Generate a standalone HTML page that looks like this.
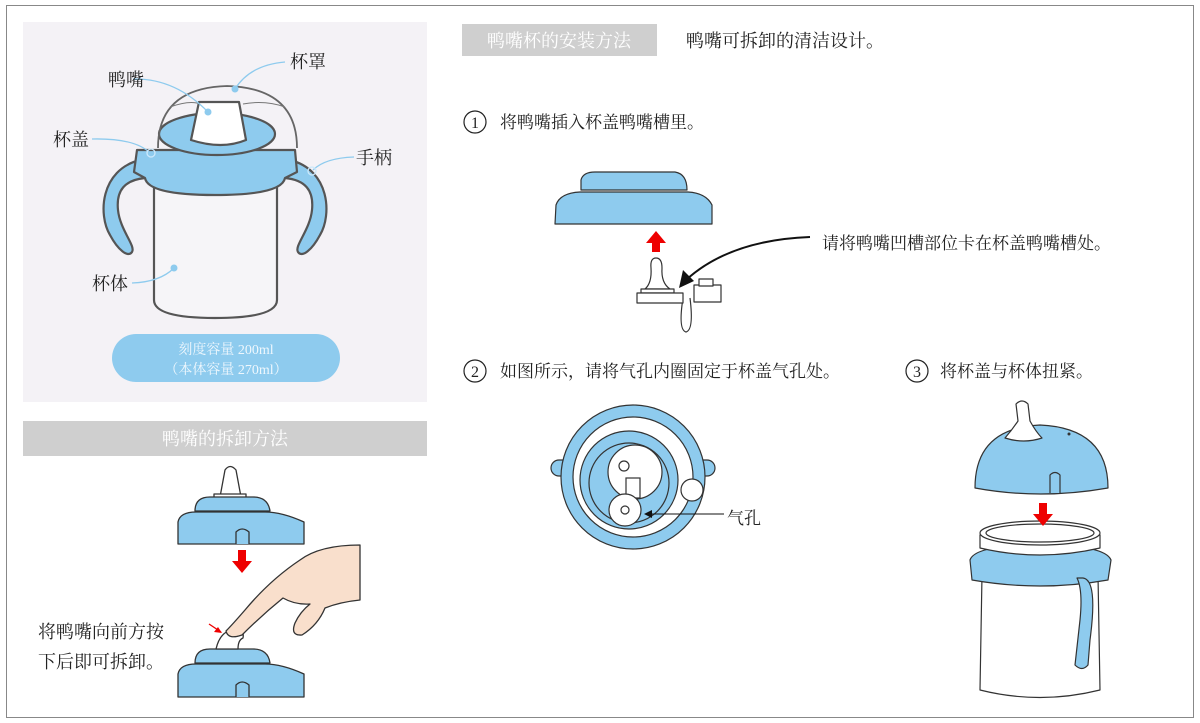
<!DOCTYPE html>
<html><head><meta charset="utf-8"><style>
html,body{margin:0;padding:0;background:#fff;}
svg{display:block;}
text{font-family:"Liberation Serif","Noto Serif CJK SC",serif;fill:#222;}
</style></head><body>
<svg width="1200" height="723" viewBox="0 0 1200 723" xmlns="http://www.w3.org/2000/svg">
<rect x="6.5" y="5.5" width="1187" height="712" fill="#fff" stroke="#888" stroke-width="1"/>
<!-- left panel -->
<rect x="23" y="22" width="404" height="380" fill="#f4f2f6"/>
<g stroke="#555" stroke-width="2.2" stroke-linejoin="round">
 <path d="M140,160 C100,170 98,215 110,235 C118,250 128,258 132,252 C136,246 120,230 118,210 C116,190 125,180 145,178 Z" fill="#8ecbee"/>
 <path d="M290,160 C330,170 332,215 320,235 C312,250 302,258 298,252 C294,246 310,230 312,210 C314,190 305,180 285,178 Z" fill="#8ecbee"/>
 <path d="M154,185 L154,300 Q154,318 215,318 Q277,318 277,300 L277,185 Z" fill="#f6f5f8"/>
 <path d="M137,150 L295,150 L297,172 L285,178 Q282,195 215,195 Q148,195 145,178 L134,172 Z" fill="#8ecbee"/>
 <ellipse cx="217" cy="134" rx="58" ry="21" fill="#8ecbee"/>
 <path d="M199,102 L239,102 L246,140 Q222,150 191,140 Z" fill="#fff"/>
 <path d="M158,148 Q158,88 227,86 Q297,88 297,148" fill="none" stroke="#666" stroke-width="1.8"/>
</g>
<path d="M170,107 Q190,100 200,104 M243,104 Q265,100 285,107" stroke="#777" fill="none" stroke-width="1"/>
<g stroke="#8ecbee" stroke-width="1.3" fill="none">
 <path d="M133,79 Q175,78 208,112"/><path d="M285,62 Q250,65 235,89"/><path d="M92,139 Q135,138 150,153"/><path d="M354,157 Q325,158 313,170"/><path d="M132,283 Q160,282 174,268"/>
</g>
<g fill="#8ecbee"><circle cx="208" cy="112" r="3.5"/><circle cx="235" cy="89" r="3.5"/><circle cx="174" cy="268" r="3.5"/></g>
<g fill="none" stroke="#cde9fb" stroke-width="1.3"><circle cx="151" cy="153" r="4"/><circle cx="312" cy="171" r="4"/></g>
<text x="108" y="86" font-size="18">鸭嘴</text>
<text x="290" y="68" font-size="18">杯罩</text>
<text x="53" y="146" font-size="18">杯盖</text>
<text x="356" y="164" font-size="18">手柄</text>
<text x="92" y="290" font-size="18">杯体</text>
<rect x="112" y="334" width="228" height="48" rx="24" fill="#8ecbee"/>
<text x="226" y="354" font-size="14" text-anchor="middle" style="fill:#eef7fd">刻度容量 200ml</text>
<text x="226" y="374" font-size="14" text-anchor="middle" style="fill:#eef7fd">（本体容量 270ml）</text>

<!-- left bottom -->
<rect x="23" y="421" width="404" height="35" fill="#cfcfcf"/>
<text x="225" y="445" font-size="18" text-anchor="middle" style="fill:#fff">鸭嘴的拆卸方法</text>
<g stroke="#333" stroke-width="1.3" stroke-linejoin="round">
 <path d="M220,497 L225,470 Q230,463 236,470 L241,497 Z" fill="#fff"/>
 <rect x="214" y="494" width="32" height="4" fill="#fff"/>
 <path d="M195,511 Q195,497 210,497 L253,497 Q268,497 270,511 Z" fill="#8ecbee"/>
 <path d="M178,544 L178,522 Q180,512 196,512 L265,512 Q282,512 304,522 L304,544 Z" fill="#8ecbee"/>
 <path d="M236,544 L236,532 Q242,526 249,532 L249,544" fill="#8ecbee"/>
 <path d="M195,663 Q195,649 210,649 L253,649 Q268,649 270,663 Z" fill="#8ecbee"/>
 <path d="M178,697 L178,674 Q180,664 196,664 L265,664 Q282,664 304,674 L304,697 Z" fill="#8ecbee"/>
 <path d="M236,697 L236,685 Q242,679 249,685 L249,697" fill="#8ecbee"/>
 <path d="M216,649 Q220,632 232,630 Q245,628 243,638 Q238,640 238,649 Z" fill="#fff"/>
 <path d="M360,545 Q320,545 300,560 Q270,580 245,610 Q232,625 226,631 Q228,640 242,635 Q262,615 283,598 Q295,605 310,604 Q300,612 295,623 Q290,636 302,635 Q318,625 325,608 Q340,602 360,600 Z" fill="#f9dfcc"/>
</g>
<path d="M238,550 L246,550 L246,561 L252,561 L242,573 L232,561 L238,561 Z" fill="#e00"/>
<path d="M209,624 L221,632" stroke="#e00" stroke-width="1.3"/><path d="M222,633 L214,632 L218,627 Z" fill="#e00"/>
<text x="38" y="638" font-size="18">将鸭嘴向前方按</text>
<text x="38" y="668" font-size="18">下后即可拆卸。</text>

<!-- right top -->
<rect x="462" y="24" width="195" height="32" fill="#cfcfcf"/>
<text x="559" y="47" font-size="18" text-anchor="middle" style="fill:#fff">鸭嘴杯的安装方法</text>
<text x="686" y="47" font-size="18">鸭嘴可拆卸的清洁设计。</text>
<circle cx="475" cy="122" r="11" fill="none" stroke="#222" stroke-width="1.2"/>
<text x="475" y="128" font-size="16" text-anchor="middle">1</text>
<text x="500" y="128" font-size="17">将鸭嘴插入杯盖鸭嘴槽里。</text>
<g stroke="#333" stroke-width="1.2" stroke-linejoin="round">
 <path d="M581,190 L581,180 Q583,172 595,172 L675,172 Q687,174 687,190 Z" fill="#8ecbee"/>
 <path d="M555,224 L556,205 Q560,193 580,192 L688,192 Q706,193 712,205 L712,224 Z" fill="#8ecbee"/>
 <path d="M683,298 Q678,330 686,332 Q694,330 690,298" fill="none"/>
 <path d="M645,289 Q652,283 651,268 Q650,258 656,258 Q662,258 662,268 Q661,283 670,289 Z" fill="#fff"/>
 <rect x="641" y="289" width="33" height="4" fill="#fff"/>
 <rect x="637" y="293" width="46" height="10" fill="#fff"/>
 <rect x="694" y="285" width="27" height="17" fill="#fff"/>
 <rect x="699" y="279" width="14" height="7" fill="#fff"/>
</g>
<path d="M652,252 L660,252 L660,243 L666,243 L656,231 L646,243 L652,243 Z" fill="#e00"/>
<path d="M810,237 Q730,240 686,280" stroke="#111" stroke-width="2" fill="none"/>
<path d="M679,288 L683,270 L694,281 Z" fill="#111"/>
<text x="822" y="249" font-size="17">请将鸭嘴凹槽部位卡在杯盖鸭嘴槽处。</text>

<circle cx="475" cy="371" r="11" fill="none" stroke="#222" stroke-width="1.2"/>
<text x="475" y="377" font-size="16" text-anchor="middle">2</text>
<text x="500" y="377" font-size="17">如图所示，请将气孔内圈固定于杯盖气孔处。</text>
<circle cx="917" cy="371" r="11" fill="none" stroke="#222" stroke-width="1.2"/>
<text x="917" y="377" font-size="16" text-anchor="middle">3</text>
<text x="940" y="377" font-size="17">将杯盖与杯体扭紧。</text>

<!-- ring -->
<g stroke="#333" stroke-width="1.2">
 <rect x="551" y="460" width="164" height="16" rx="8" fill="#8ecbee"/>
 <circle cx="633" cy="477" r="72" fill="#8ecbee"/>
 <circle cx="633" cy="477" r="60" fill="#fff"/>
 <circle cx="629" cy="480" r="49" fill="#8ecbee"/>
 <circle cx="629" cy="483" r="40" fill="#8ecbee"/>
 <circle cx="635" cy="472" r="27" fill="#fff"/>
 <circle cx="692" cy="490" r="11" fill="#fff"/>
 <rect x="626" y="478" width="14" height="20" fill="#fff"/>
 <circle cx="625" cy="510" r="16" fill="#fff"/>
 <circle cx="625" cy="510" r="4" fill="#fff"/>
 <circle cx="624" cy="466" r="5" fill="#fff"/>
</g>
<path d="M724,514 L650,514" stroke="#111" stroke-width="1"/><path d="M644,514 L652,510 L652,518 Z" fill="#111"/>
<text x="727" y="524" font-size="17">气孔</text>

<!-- step3 cup -->
<g stroke="#333" stroke-width="1.2" stroke-linejoin="round">
 <path d="M982,575 L980,690 Q1040,705 1100,690 L1098,575 Z" fill="#fff"/>
 <path d="M972,580 L970,560 Q975,545 1040,545 Q1105,545 1111,560 L1108,580 Q1040,592 972,580 Z" fill="#8ecbee"/>
 <path d="M980,535 L980,548 Q1040,562 1100,548 L1100,535 Z" fill="#fff"/>
 <ellipse cx="1040" cy="533" rx="60" ry="12" fill="#fff"/>
 <ellipse cx="1040" cy="533" rx="54" ry="9" fill="#fff"/>
 <path d="M1083,578 Q1098,580 1090,640 L1088,665 Q1082,672 1075,665 L1080,620 Q1083,590 1077,578 Z" fill="#8ecbee"/>
 <path d="M975,488 Q975,428 1040,425 Q1108,428 1108,488 Q1040,500 975,488 Z" fill="#8ecbee"/>
 <path d="M1005,438 Q1012,430 1018,421 L1016,404 Q1022,398 1028,404 L1030,421 Q1036,432 1042,438 Q1024,444 1005,438 Z" fill="#fff"/>
 <path d="M1050,493 L1050,475 Q1055,470 1060,475 L1060,493" fill="#8ecbee"/>
</g>
<circle cx="1069" cy="434" r="1.5" fill="#333"/>
<path d="M1039,503 L1047,503 L1047,514 L1053,514 L1043,526 L1033,514 L1039,514 Z" fill="#e00"/>
</svg>
</body></html>
